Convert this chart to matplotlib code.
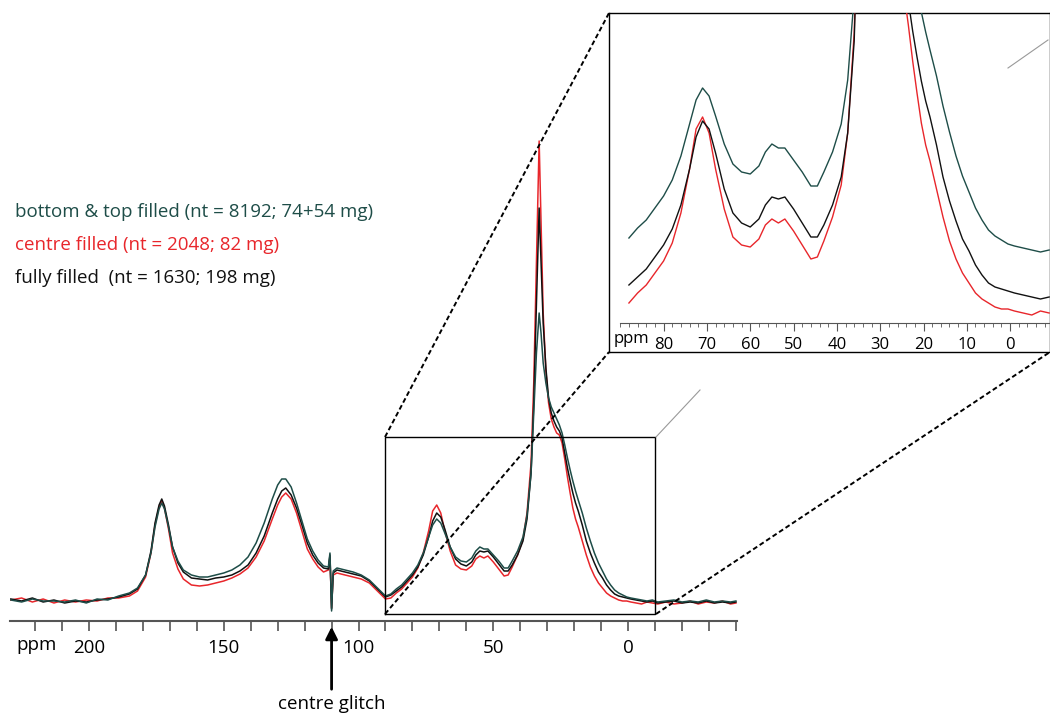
import matplotlib.pyplot as plt
from matplotlib.lines import Line2D

# chemical shift grid (ppm) and intensities (arbitrary units, ~px above baseline)
ppm = [229, 225, 221, 217, 213, 209, 205, 201, 197, 193, 189, 185, 182, 179, 177, 175.5, 174, 173, 172, 170.5,
       169, 167, 165, 162, 159, 156, 153, 150, 147, 144, 141, 138, 135, 132, 130, 128.5, 127, 125, 123, 121,
       119, 117, 115, 113, 111.2, 110.6, 110.0, 109.4, 108, 105, 102, 99, 96, 93, 90, 88, 86, 84, 82, 80,
       78, 76, 74, 72.5, 71, 69.5, 68, 66, 64, 62, 60, 58, 56.5, 55, 53.5, 52, 50, 48, 46, 44.5, 43,
       41, 39, 37.5, 36, 35, 34, 33, 32.3, 31.5, 30.5, 29.5, 28.5, 27.5, 26.5, 25.5, 24.5, 23.5, 22.5, 21.5,
       20.5, 19.5, 18.5, 17, 15.5, 14, 12.5, 11, 9.5, 8, 6.5, 5, 3.5, 2, 0.5, -1, -3, -5, -7, -9, -11,
       -14, -17, -20, -23, -26, -29, -32, -35, -38, -40]

black = [4, 2, 5, 1, 3, 0, 2, 1, 3, 4, 6, 9, 14, 28, 52, 80, 98, 104, 97, 78,
         56, 40, 31, 25, 24, 23, 25, 26, 28, 32, 38, 50, 67, 90, 104, 112, 115, 108, 95, 78,
         60, 48, 40, 35, 34, 48, -6, 30, 33, 31, 29, 27, 22, 14, 6, 8, 12, 16, 22, 28,
         36, 48, 66, 82, 90, 86, 74, 56, 44, 39, 37, 41, 48, 52, 51, 52, 46, 39, 32, 32, 38,
         48, 62, 84, 130, 200, 300, 395, 340, 280, 235, 205, 190, 182, 176, 172, 165, 150, 135, 122,
         110, 100, 92, 78, 62, 50, 40, 31, 25, 18, 13, 9, 7, 6, 5, 4, 3, 2, 1, 2, 0,
         1, 2, 0, 1, 0, 2, 0, 1, 0, 1]

red = [3, 5, 1, 4, 0, 3, 1, 3, 2, 5, 5, 7, 12, 26, 50, 78, 96, 102, 95, 74,
       50, 34, 24, 18, 17, 18, 20, 22, 25, 29, 35, 46, 62, 84, 98, 106, 110, 104, 90, 72,
       54, 44, 36, 31, 33, 46, -5, 28, 30, 28, 26, 24, 20, 12, 4, 5, 10, 14, 20, 26,
       35, 50, 72, 92, 98, 90, 72, 52, 38, 34, 33, 37, 44, 47, 45, 47, 41, 34, 27, 28, 36,
       48, 64, 90, 140, 220, 340, 462, 380, 290, 232, 200, 184, 176, 170, 168, 160, 144, 126, 110,
       95, 84, 76, 62, 48, 36, 27, 20, 15, 10, 7, 5, 3, 2, 2, 1, 0, -1, 1, 0, -1,
       1, -1, 0, 2, -1, 1, 0, 2, -1, 0]

teal = [3, 1, 4, 2, 2, 1, 3, 0, 4, 3, 7, 10, 15, 28, 50, 76, 94, 100, 94, 76,
        56, 42, 33, 28, 26, 26, 28, 30, 33, 38, 46, 60, 80, 104, 118, 124, 124, 116, 100, 82,
        64, 52, 43, 37, 36, 50, -8, 32, 35, 33, 31, 28, 23, 15, 7, 9, 14, 18, 24, 30,
        38, 50, 66, 78, 84, 80, 70, 56, 46, 42, 41, 45, 52, 56, 54, 54, 48, 42, 35, 35, 42,
        52, 66, 88, 130, 190, 250, 290, 270, 240, 220, 205, 196, 190, 184, 178, 170, 158, 145, 133,
        122, 112, 103, 90, 75, 62, 50, 40, 32, 24, 18, 13, 10, 8, 6, 5, 4, 3, 2, 3, 1,
        2, 3, 1, 2, 1, 3, 1, 2, 1, 2]

series_labels = ["bottom & top filled (nt = 8192; 74+54 mg)",
                 "centre filled (nt = 2048; 82 mg)",
                 "fully filled  (nt = 1630; 198 mg)"]
TEAL = "#1e4d48"
RED = "#e8262b"
BLACK = "#111111"

W, H = 1050, 715


def fx(px):
    return px / W


def fy(py):
    return 1 - py / H


def main() -> None:
    plt.rcParams["font.family"] = ["Open Sans", "DejaVu Sans"]
    fig = plt.figure(figsize=(10.5, 7.15), dpi=100)

    # main spectrum
    ax = fig.add_axes([fx(10), fy(621), fx(737 - 10), (621 - 100) / H])
    ax.set_xlim(229.3, -40.4)
    ax.set_ylim(-18, 503)
    for y, c in ((red, RED), (black, BLACK), (teal, TEAL)):
        ax.plot(ppm, y, color=c, lw=1.1)
    for s in ("top", "left", "right"):
        ax.spines[s].set_visible(False)
    ax.spines["bottom"].set_color("#555555")
    ax.spines["bottom"].set_linewidth(1.5)
    ax.set_yticks([])
    ax.set_xticks(range(-40, 230, 10))
    ax.set_xticklabels([str(v) if v in (200, 150, 100, 50, 0) else "" for v in range(-40, 230, 10)],
                       fontsize=13.5)
    ax.tick_params(axis="x", length=7, width=1.2, color="#555555", pad=6)
    ax.text(227, -33, "ppm", fontsize=13.5, va="top", ha="left")
    ax.plot([90, 90, -10, -10, 90], [-11, 166, 166, -11, -11], color="black", lw=1.0)
    ax.annotate("", xy=(110, -21), xytext=(110, -89),
                arrowprops=dict(arrowstyle="-|>", color="black", lw=2, mutation_scale=18),
                annotation_clip=False)
    ax.text(110, -110, "centre glitch", fontsize=13.5, ha="center", va="bottom")

    # inset frame
    fr = fig.add_axes([fx(609), fy(352), fx(1050 - 609), (352 - 13) / H])
    fr.set_xticks([])
    fr.set_yticks([])
    for s in fr.spines.values():
        s.set_linewidth(1.0)

    ins = fig.add_axes([fx(609), fy(323), fx(1050 - 609), (323 - 13) / H])
    ins.patch.set_alpha(0)
    ins.set_xlim(92.6, -9.2)
    ins.set_ylim(0, 310)
    for s in ("top", "left", "right"):
        ins.spines[s].set_visible(False)
    ins.spines["bottom"].set_bounds(90, -9.2)
    ins.spines["bottom"].set_color("#555555")
    ins.set_yticks([])
    ins.set_xticks(range(0, 90, 10))
    ins.set_xticks(range(-8, 91, 2), minor=True)
    ins.tick_params(axis="x", which="major", length=6, color="#555555", labelsize=12, pad=4)
    ins.tick_params(axis="x", which="minor", length=3, color="#555555")
    ins.text(91.5, -8, "ppm", fontsize=12, va="top", ha="left")
    sel = [i for i, p in enumerate(ppm) if -10 <= p <= 88]
    xs = [ppm[i] for i in sel]
    for y, c, off in ((red, RED, 26), (black, BLACK, 38), (teal, TEAL, 83)):
        ins.plot(xs, [off + (y[i] - 8) * 2.0 for i in sel], color=c, lw=1.0, clip_on=True)

    # connecting dashed lines and grey box edges
    for (x0, y0), (x1, y1) in (((385, 437), (609, 13)), ((385, 614), (609, 352)),
                               ((656, 614), (1050, 352))):
        fig.add_artist(Line2D([fx(x0), fx(x1)], [fy(y0), fy(y1)], color="black", lw=1.4, ls=(0, (2.5, 1.5))))
    fig.add_artist(Line2D([fx(656), fx(700)], [fy(437), fy(390)], color="#999999", lw=0.8))
    fig.add_artist(Line2D([fx(1008), fx(1048)], [fy(68), fy(40)], color="#999999", lw=0.8))

    for i, (t, c) in enumerate(zip(series_labels, (TEAL, RED, BLACK))):
        fig.text(fx(15), fy(212 + i * 33), t, color=c, fontsize=13.5, va="center")

    fig.savefig("out.png", dpi=100)


if __name__ == "__main__":
    main()
